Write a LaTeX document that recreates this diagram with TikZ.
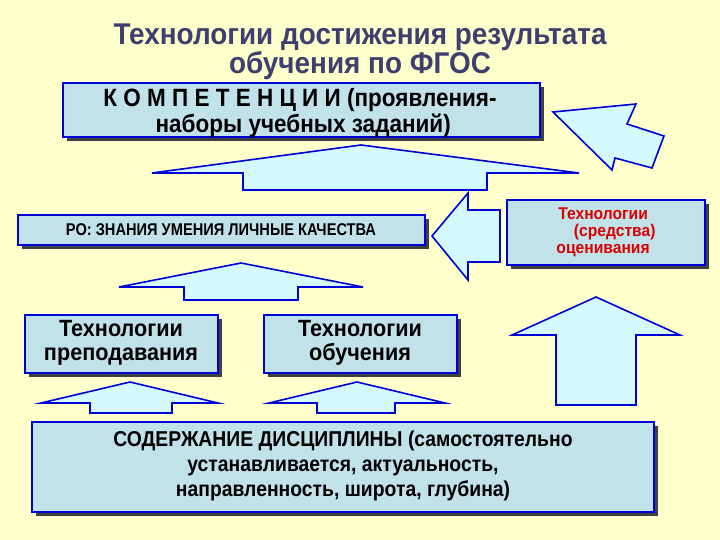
\documentclass[tikz,border=0pt]{standalone}
\usepackage{fontspec}
\setmainfont{Liberation Sans}
\begin{document}
\begin{tikzpicture}[x=1pt,y=-1pt,
  box/.style={draw=blue!85!black,line width=2pt,fill=boxc},
  arr/.style={draw=blue!85!black,line width=1.6pt,fill=arrc,line join=miter},
  lbl/.style={font=\bfseries,align=center,inner sep=0pt}]
\definecolor{bg}{HTML}{FFFFCC}
\definecolor{boxc}{HTML}{C2E2EA}
\definecolor{arrc}{HTML}{D4FAFF}
\definecolor{ttl}{HTML}{3E3E70}
\useasboundingbox (0,0) rectangle (720,540);
\fill[bg] (0,0) rectangle (720,540);
% title
\node[lbl,font=\bfseries\fontsize{30}{24}\selectfont,text=ttl,align=center,xscale=0.93] (title) at (360,52) {Технологии достижения результата\\обучения по ФГОС};
% boxes with shadows
\newcommand{\shbox}[5]{\fill[black!75] (#1+4,#2+4) rectangle (#3+4,#4+4); \draw[box] (#1,#2) rectangle (#3,#4) coordinate (#5);}
\shbox{63}{83}{540}{137}{b1}
\node[lbl,font=\bfseries\fontsize{25}{26}\selectfont,align=left,xscale=0.9] (komp) at (300,113) {К О М П Е Т Е Н Ц И И (проявления-\\\hspace*{58pt}наборы учебных заданий)};
% big up arrow 1
\draw[arr] (152,173) -- (361,145) -- (579,173) -- (487,173) -- (487,190) -- (243,190) -- (243,173) -- cycle;
% diagonal arrow
\draw[arr] (553,112) -- (636,104) -- (627,124) -- (664,136) -- (652,168) -- (615,158) -- (612,170) -- cycle;
% left arrow
\draw[arr] (432,236) -- (468,193) -- (468,210) -- (500,210) -- (500,262) -- (468,262) -- (468,280) -- cycle;
\shbox{18}{215}{425}{245}{b2}
\node[lbl,font=\bfseries\fontsize{17}{18}\selectfont,xscale=0.86] (ro) at (221,230) {РО: ЗНАНИЯ УМЕНИЯ ЛИЧНЫЕ КАЧЕСТВА};
\shbox{507}{200}{705}{265}{b3}
\node[lbl,font=\bfseries\fontsize{17}{17}\selectfont,text=red!85!black,align=left,xscale=0.92] (ocen) at (606,232) {\hspace*{2pt}Технологии\\\hspace*{19pt}(средства)\\оценивания};
% arrow 2
\draw[arr] (119,287) -- (241,263) -- (363,287) -- (298,287) -- (298,300) -- (184,300) -- (184,287) -- cycle;
\shbox{25}{315}{218}{373}{b4}
\node[lbl,font=\bfseries\fontsize{23.5}{24}\selectfont,xscale=0.92] (prep) at (121,343) {Технологии\\преподавания};
\shbox{264}{315}{457}{373}{b5}
\node[lbl,font=\bfseries\fontsize{23.5}{24}\selectfont,xscale=0.92] (obuch) at (360,343) {Технологии\\обучения};
% small arrows
\draw[arr] (41,403) -- (130,382) -- (218,403) -- (172,403) -- (172,413) -- (90,413) -- (90,403) -- cycle;
\draw[arr] (269,403) -- (357,382) -- (445,403) -- (395,403) -- (395,413) -- (317,413) -- (317,403) -- cycle;
% big right up arrow
\draw[arr] (512,335) -- (596,297) -- (680,335) -- (636,335) -- (636,405) -- (556,405) -- (556,335) -- cycle;
\shbox{32}{422}{654}{512}{b6}
\node[lbl,font=\bfseries\fontsize{21.5}{25}\selectfont,xscale=0.9] (sod) at (343,466) {СОДЕРЖАНИЕ ДИСЦИПЛИНЫ (самостоятельно\\устанавливается, актуальность,\\направленность, широта, глубина)};
\end{tikzpicture}
\end{document}
